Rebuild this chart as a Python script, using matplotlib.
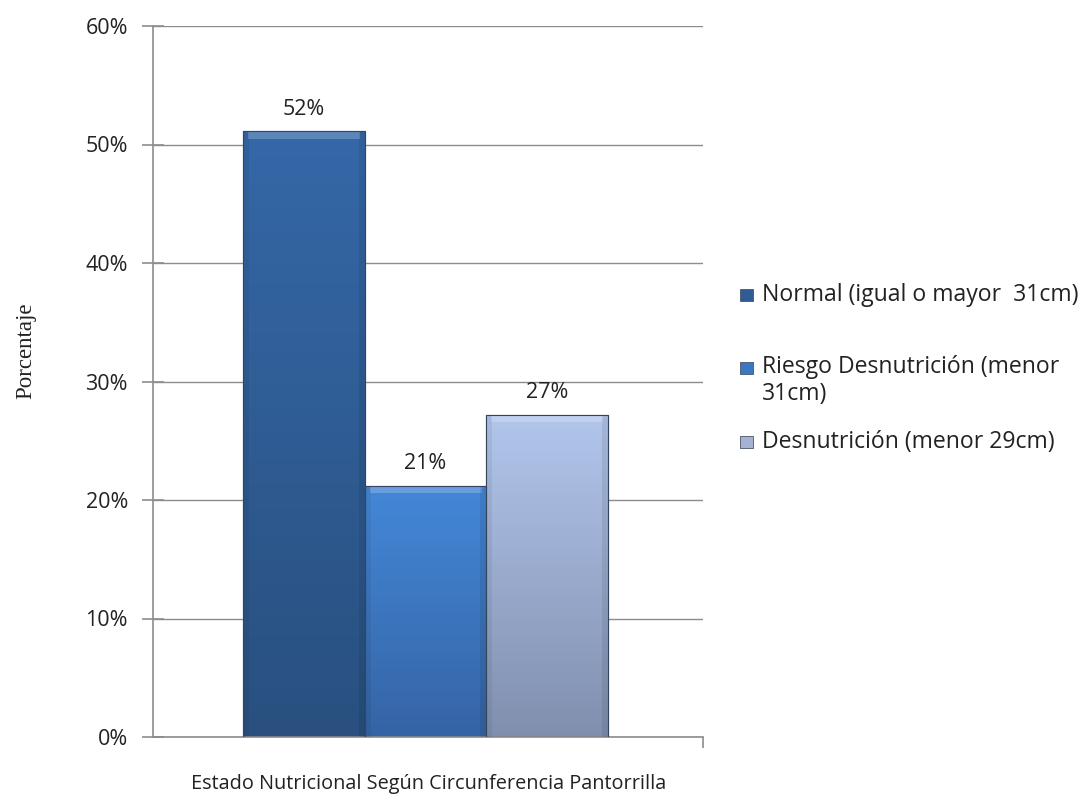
import numpy as np
import matplotlib.pyplot as plt
from matplotlib.colors import LinearSegmentedColormap
from matplotlib.patches import Rectangle

categories = ["Normal (igual o mayor  31cm)",
              "Riesgo Desnutrición (menor\n31cm)",
              "Desnutrición (menor 29cm)"]
values = [51.1, 21.2, 27.2]
value_labels = ["52%", "21%", "27%"]
yticks = [0, 10, 20, 30, 40, 50, 60]

# top / bottom colours of each bar gradient
top_colors = ["#3568A8", "#4488D8", "#B2C6EC"]
bottom_colors = ["#29507F", "#3564A5", "#808FAE"]
legend_colors = ["#2F5C94", "#3A78C4", "#A5B3D0"]

plt.rcParams['font.family'] = ['Open Sans', 'DejaVu Sans']

W, H = 1084, 798
fig = plt.figure(figsize=(W / 100, H / 100), dpi=100)
ax = fig.add_axes([153 / W, 1 - 737 / H, 550 / W, 711 / H])

x = np.arange(len(values))
bars = ax.bar(x, values, width=1.0, color=bottom_colors,
              edgecolor="#34465e", linewidth=0.8, zorder=2)

for b, top, bot in zip(bars, top_colors, bottom_colors):
    cmap = LinearSegmentedColormap.from_list("g", [bot, top])
    x0, y0 = b.get_x(), b.get_y()
    w, h = b.get_width(), b.get_height()
    grad = np.linspace(0, 1, 256).reshape(-1, 1)
    im = ax.imshow(grad, cmap=cmap, aspect="auto", origin="lower",
                   extent=[x0, x0 + w, y0, y0 + h], zorder=2.5,
                   interpolation="bilinear")
    im.set_clip_path(b)
    # bevel: light strip on top, darker strips on the sides
    ax.fill_between([x0 + 0.04, x0 + w - 0.04], y0 + h - 0.6, y0 + h,
                    color="white", alpha=0.2, zorder=3, linewidth=0)
    ax.fill_between([x0, x0 + 0.05], y0, y0 + h,
                    color="black", alpha=0.06, zorder=3, linewidth=0)
    ax.fill_between([x0 + w - 0.05, x0 + w], y0, y0 + h,
                    color="black", alpha=0.08, zorder=3, linewidth=0)
    ax.add_patch(Rectangle((x0, y0), w, h, fill=False, edgecolor="#34465e",
                           linewidth=0.8, zorder=3.5))

for xi, v, lab in zip(x, values, value_labels):
    ax.text(xi, v + 1.0, lab, ha="center", va="bottom", fontsize=15.5, color="#222222")

ax.set_xlim(-1.24, 3.28)
ax.set_ylim(0, 60)
ax.set_yticks(yticks)
ax.set_yticklabels([f"{t}%" for t in yticks], fontsize=15.5, color="#222222")
ax.yaxis.grid(True, color="#8c8c8c", linewidth=1.0, zorder=0)
ax.set_axisbelow(True)
ax.tick_params(axis="y", direction="inout", length=16, width=1.2, color="#8c8c8c", pad=10)
ax.set_xticks([3.28])
ax.set_xticklabels([""])
ax.tick_params(axis="x", direction="out", length=8, width=1.2, color="#8c8c8c")

for side in ["top", "right"]:
    ax.spines[side].set_visible(False)
for side in ["left", "bottom"]:
    ax.spines[side].set_color("#8c8c8c")
    ax.spines[side].set_linewidth(1.2)

fig.text(26 / W, 1 - 351 / H, "Porcentaje", family="Liberation Serif", fontsize=16.5,
         rotation=90, ha="center", va="center", color="#222222")
fig.text(429 / W, 1 - 784 / H, "Estado Nutricional Según Circunferencia Pantorrilla",
         fontsize=14.3, ha="center", va="center", color="#222222")

# legend, placed by hand (entries are unevenly spaced in the original)
rows_y = [295, 368, 442]
text_y = [295, 380.5, 442]
for c, lab, ry, ty in zip(legend_colors, categories, rows_y, text_y):
    fig.patches.append(Rectangle((740 / W, 1 - (ry + 6) / H), 13 / W, 12 / H,
                                 facecolor=c, edgecolor="#4a5568", linewidth=0.6,
                                 transform=fig.transFigure, figure=fig))
    fig.text(762 / W, 1 - ty / H, lab, fontsize=16.6, ha="left", va="center",
             linespacing=1.15, color="#222222")

fig.savefig("out.png", dpi=100)
